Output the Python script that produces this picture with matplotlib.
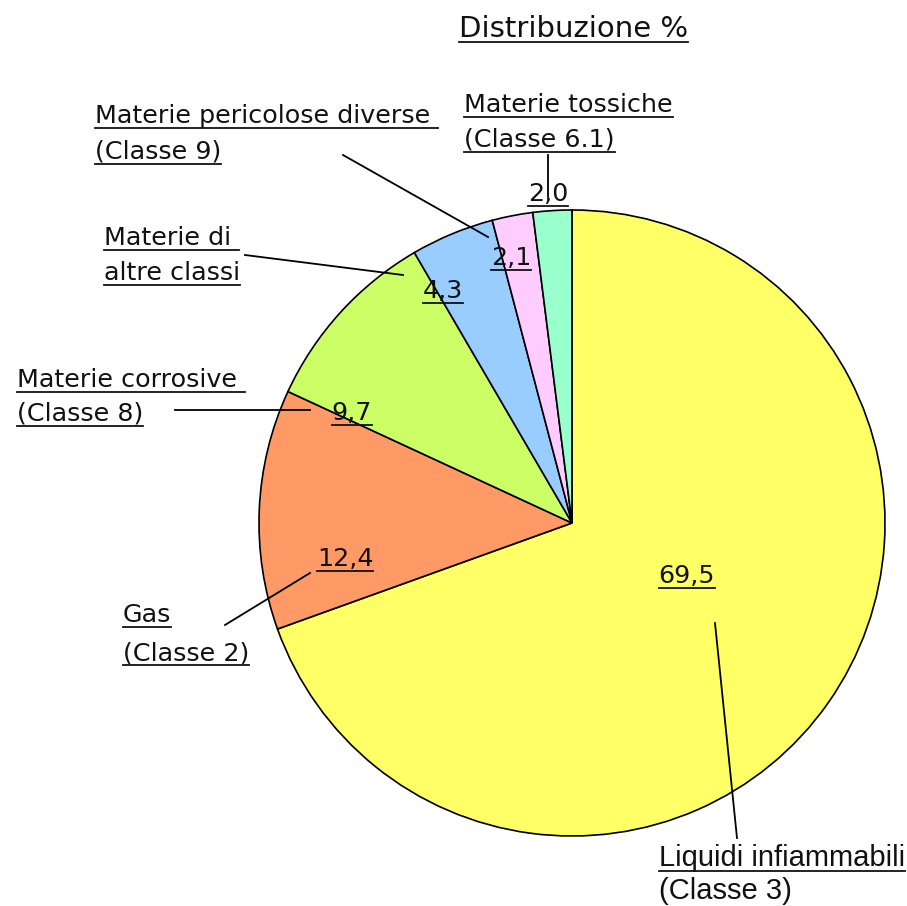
import numpy as np
import matplotlib
matplotlib.use("Agg")
from matplotlib import pyplot as plt

# Data (clockwise from 12 o'clock).
categories = [
    ["Liquidi infiammabili", "(Classe 3)"],
    ["Gas", "(Classe 2)"],
    ["Materie corrosive ", "(Classe 8)"],
    ["Materie di ", "altre classi"],
    ["Materie pericolose diverse ", "(Classe 9)"],
    ["Materie tossiche", "(Classe 6.1)"],
]
values = [69.5, 12.4, 9.7, 4.3, 2.1, 2.0]
colors = ["#FFFF66", "#FF9966", "#CCFF66", "#99CCFF", "#FFCCFF", "#99FFCC"]
title = "Distribuzione %"

# Layout in pixel coords (x, baseline y), y grows downwards.
name_pos = [(659, 866), (123, 622), (17, 387), (104, 245), (95, 123), (464, 112)]
name_gap = [33, 38, 34, 35, 36, 35]
value_pos = [(687, 583), (345, 566), (352, 420), (443, 298), (511, 265), (548, 201)]
leaders = [
    [(715, 623), (737, 838)],
    [(225, 625), (310, 573)],
    [(175, 410), (310, 410)],
    [(245, 255), (403, 275)],
    [(343, 155), (488, 237)],
    [(548, 155), (548, 197)],
]

W, H = 907, 906
fig = plt.figure(figsize=(W / 100, H / 100), dpi=100)
ax = fig.add_axes([0, 0, 1, 1])

ax.pie(values, colors=colors, startangle=-90, counterclock=True,
       center=(572, 523), radius=313, frame=True,
       wedgeprops=dict(edgecolor="black", linewidth=1.2))
ax.set_xlim(0, W)
ax.set_ylim(H, 0)
ax.set_aspect("auto")
ax.axis("off")

font = dict(family="DejaVu Sans", size=18.3, color="#111111")
texts = []

t = ax.text(459, 37, title, ha="left", va="baseline",
            family="DejaVu Sans", size=21, color="#111111")
texts.append(t)

for i, (name, val) in enumerate(zip(categories, values)):
    x, y = name_pos[i]
    kw = dict(font)
    if i == 0:
        kw.update(family="Liberation Sans", size=21)
    for k, line in enumerate(name):
        texts.append(ax.text(x, y + k * name_gap[i], line, ha="left",
                             va="baseline", **kw))
    vx, vy = value_pos[i]
    texts.append(ax.text(vx, vy, f"{val:.1f}".replace(".", ","),
                         ha="center", va="baseline", **font))
    (x0, y0), (x1, y1) = leaders[i]
    ax.plot([x0, x1], [y0, y1], color="black", lw=1.3)

# Underline every text line (except the last one, cut at the bottom).
fig.canvas.draw()
renderer = fig.canvas.get_renderer()
inv = ax.transData.inverted()
for t in texts:
    yb = t.get_position()[1] + 5
    if yb > H - 4:
        continue
    bb = t.get_window_extent(renderer)
    (xa, _), (xb, _) = inv.transform([(bb.x0, bb.y0), (bb.x1, bb.y0)])
    ax.plot([xa, xb], [yb, yb], color="#111111", lw=1.3)

fig.savefig("out.png", dpi=100)
